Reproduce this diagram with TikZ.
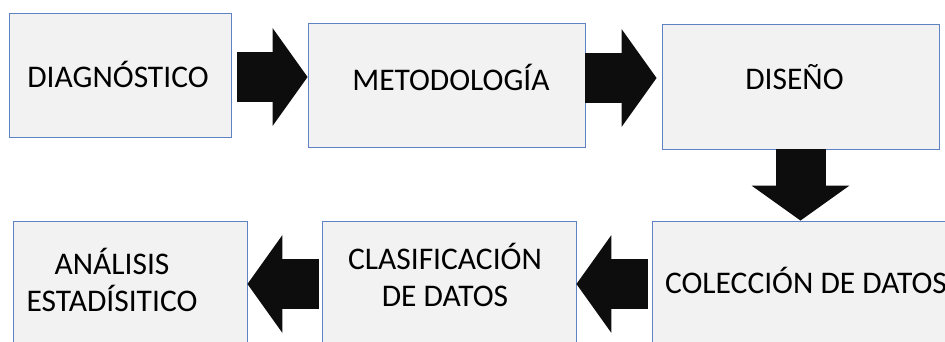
\documentclass[tikz,border=0pt]{standalone}
\usepackage{fontspec}
\setmainfont{Carlito}
\usetikzlibrary{arrows.meta}
\definecolor{stepfill}{RGB}{242,242,242}
\definecolor{stepline}{RGB}{95,130,195}
\definecolor{arrowblack}{RGB}{13,13,13}
\definecolor{arrowedge}{RGB}{47,85,151}

\begin{document}
\begin{tikzpicture}[x=1pt,y=1pt,
    box/.style={draw=stepline,fill=stepfill,line width=0.9pt,
                minimum width=#1,minimum height=124pt,inner sep=0pt},
    txt/.style={font=\fontsize{31.5}{37}\selectfont,align=center,inner sep=0pt},
    bigarrow/.style={line width=50pt,color=arrowblack,
                     -{Triangle[width=98pt,length=35pt,line width=0pt]},
                     preaction={color=arrowedge,line width=52pt,shorten <=-1pt,
                       -{Triangle[width=101pt,length=37pt,line width=0pt]}}}]
    \useasboundingbox (0,0) rectangle (945,341);
    \clip (0,0) rectangle (945,341);
    % upper row
    \node[box=222] (diag) at (120,266) {};
    \node[box=277] (met)  at (446.5,256) {};
    \node[box=277,minimum height=125pt] (dis) at (800.5,254.5) {};
    % lower row (runs off the page at the right and bottom)
    \node[box=308] (col) at (806,58) {};
    \node[box=254] (cla) at (449,58) {};
    \node[box=234] (ana) at (130,58) {};
    % texts
    \node[txt,anchor=base] (diagt) at (118,254) {DIAGNÓSTICO};
    \node[txt,anchor=base] (mett)  at (451,251) {METODOLOGÍA};
    \node[txt,anchor=base] (dist)  at (794.5,252) {DISEÑO};
    \node[txt,anchor=base] (colt)  at (806,48) {COLECCIÓN DE DATOS};
    \node[txt] (clat) at (445,66) {CLASIFICACIÓN\\DE DATOS};
    \node[txt] (anat) at (112,61) {ANÁLISIS\\ESTADÍSITICO};
    % block arrows
    \draw[bigarrow] ([xshift=6pt,yshift=-2pt]diag.east) -- ([yshift=-2pt]diag.east -| met.west);
    \draw[bigarrow] ([yshift=7pt]met.east) -- ([xshift=-5pt,yshift=7pt]met.east -| dis.west);
    \draw[bigarrow] (dis.south) -- (dis.south |- col.north);
    \draw[bigarrow] ([xshift=-4pt,yshift=-1pt]col.west) -- ([yshift=-1pt]col.west -| cla.east);
    \draw[bigarrow] ([xshift=-3pt,yshift=-1pt]cla.west) -- ([yshift=-1pt]cla.west -| ana.east);
\end{tikzpicture}
\end{document}
